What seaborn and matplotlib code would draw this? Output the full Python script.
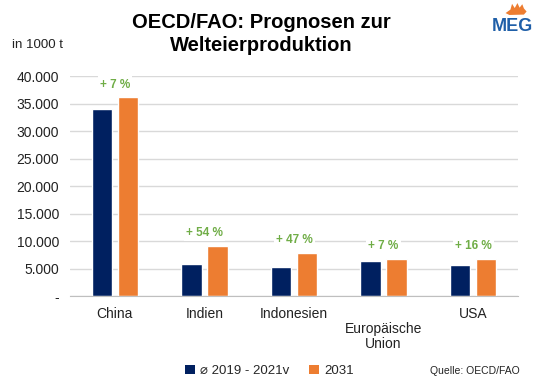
import numpy as np
import pandas as pd
import matplotlib
matplotlib.use('Agg')
import matplotlib.pyplot as plt
from matplotlib.patches import Patch, Polygon
import seaborn as sns

# values (in 1000 t)
countries = ["China", "Indien", "Indonesien", "Europäische Union", "USA"]
tick_labels = ["China", "Indien", "Indonesien", "\nEuropäische\nUnion", "USA"]
prod_2019_2021 = [34000, 5900, 5200, 6400, 5700]
prod_2031 = [36100, 9100, 7800, 6700, 6700]
change_labels = ["+ 7 %", "+ 54 %", "+ 47 %", "+ 7 %", "+ 16 %"]
series_names = ["\u2300 2019 - 2021v", "2031"]
y_ticks = [0, 5000, 10000, 15000, 20000, 25000, 30000, 35000, 40000]

dark = "#002060"
orange = "#ED7D31"
green = "#70AD47"

df = pd.DataFrame({
    "Land": countries * 2,
    "Wert": prod_2019_2021 + prod_2031,
    "Zeitraum": [series_names[0]] * len(countries) + [series_names[1]] * len(countries),
})

sns.set_style("white")
plt.rcParams['font.family'] = ['Liberation Sans', 'DejaVu Sans']

fig = plt.figure(figsize=(5.39, 3.84), dpi=100)
ax = fig.add_axes([0.13, 0.229, 0.831, 0.573])

sns.barplot(data=df, x="Land", y="Wert", hue="Zeitraum", order=countries,
            palette=[dark, orange], saturation=1, width=0.58, gap=0.22, ax=ax, legend=False)

ax.set_ylim(0, 40000)
ax.set_xlim(-0.5, len(countries) - 0.5)
ax.set_yticks(y_ticks)
ax.set_yticklabels(["-"] + [f"{v:,}".replace(",", ".") for v in y_ticks[1:]],
                   fontsize=10, color="#222222")
ax.set_xticks(range(len(countries)))
ax.set_xticklabels(tick_labels, fontsize=10, color="#222222", linespacing=1.1)
ax.tick_params(axis="both", length=0, pad=8)
ax.grid(axis="y", color="#D9D9D9", linewidth=1)
ax.set_axisbelow(True)
for s in ["top", "right", "left"]:
    ax.spines[s].set_visible(False)
ax.spines["bottom"].set_color("#BFBFBF")
ax.set_xlabel("")
ax.set_ylabel("")

# percentage change above each group
for i, lab in enumerate(change_labels):
    top = max(prod_2019_2021[i], prod_2031[i])
    ax.annotate(lab, (i, top), xytext=(0, 5), textcoords="offset points",
                ha="center", va="bottom", fontsize=8.5, fontweight="bold", color=green,
                bbox=dict(facecolor="white", edgecolor="none", pad=1.5))

fig.text(0.485, 0.912, "OECD/FAO: Prognosen zur\nWelteierproduktion", ha="center", va="center",
         fontsize=14.5, fontweight="bold", color="black", linespacing=1.28)
fig.text(0.022, 0.882, "in 1000 t", ha="left", va="center", fontsize=9.5, color="#222222")

# MEG logo: blue letters with an orange flame
fig.text(0.989, 0.932, "MEG", ha="right", va="center", fontsize=13, fontweight="bold",
         color="#1F5FA8")
flame = Polygon([(0.938, 0.966), (0.947, 0.975), (0.950, 0.990), (0.955, 0.979),
                 (0.960, 0.992), (0.964, 0.980), (0.969, 0.989), (0.972, 0.978),
                 (0.977, 0.970), (0.972, 0.962), (0.945, 0.961)],
                closed=True, transform=fig.transFigure, facecolor=orange, edgecolor="none")
fig.patches.append(flame)

handles = [Patch(facecolor=dark, edgecolor="none"), Patch(facecolor=orange, edgecolor="none")]
fig.legend(handles, series_names, loc="center", bbox_to_anchor=(0.5, 0.034), ncol=2,
           frameon=False, fontsize=9.5, handlelength=0.75, handleheight=0.75,
           handletextpad=0.4, columnspacing=1.5)
fig.text(0.965, 0.02, "Quelle: OECD/FAO", ha="right", va="bottom", fontsize=7.5, color="#222222")

fig.savefig("out.png", dpi=100)
plt.close(fig)
